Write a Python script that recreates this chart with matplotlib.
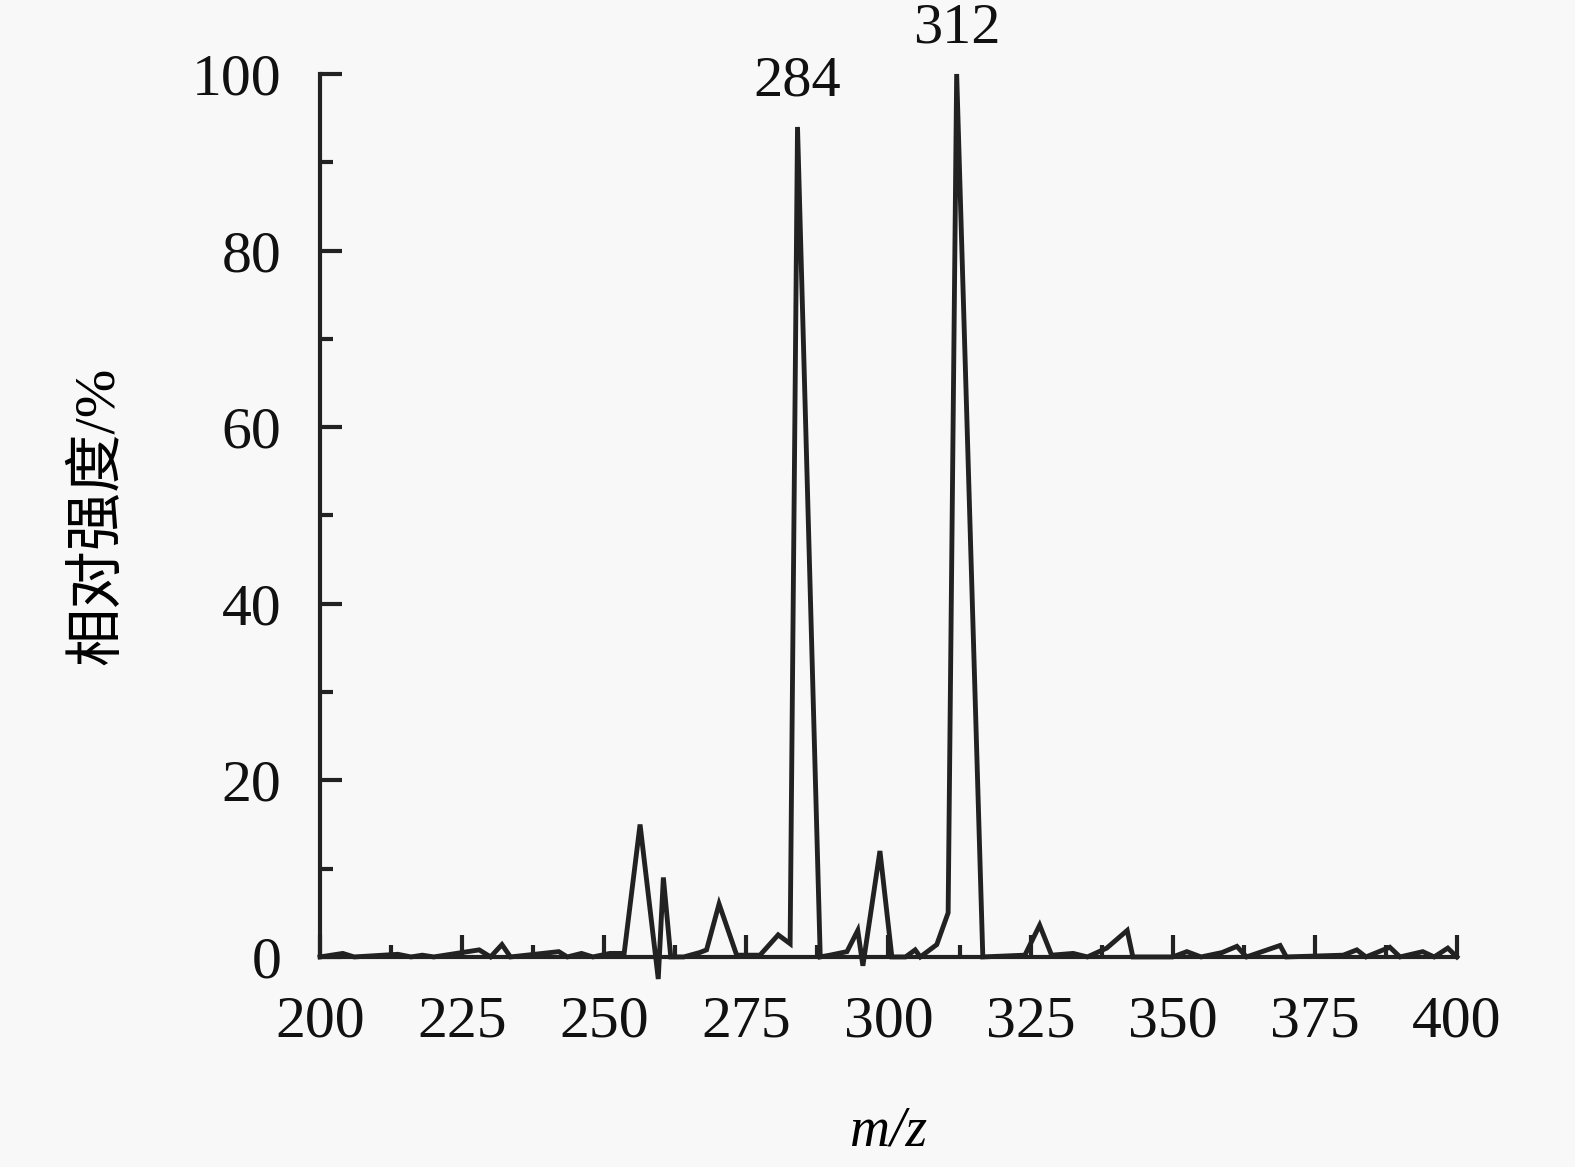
import matplotlib
matplotlib.use('Agg')
import matplotlib.pyplot as plt
from matplotlib.ticker import MultipleLocator

# spectrum points
mz = [200, 204, 206, 213.7, 216, 218, 220, 228, 230, 232, 233.5, 242, 243.5,
      246, 248, 251, 253.5, 256.3, 259.5, 260.4, 261.7, 264, 266.8, 268,
      270.2, 273.3, 277.4, 280.6, 282.7, 284, 288, 289.7, 292.7, 294.6,
      295.5, 298.5, 300.6, 303, 304.7, 305.6, 308.5, 310.5, 312, 316.6,
      324, 326.6, 328.7, 332.5, 335, 338.4, 342, 343, 350, 352.5, 355,
      358.7, 361.3, 363, 368.9, 370, 380, 382.4, 384, 388.2, 390, 394, 396,
      398.4, 400]
intensity = [0, 0.4, 0, 0.3, 0, 0.2, 0, 0.8, 0, 1.4, 0, 0.6, 0,
             0.4, 0, 0.4, 0.4, 15, -2.5, 9, 0, 0, 0.5, 0.8,
             6, 0.2, 0.2, 2.5, 1.5, 94, 0, 0.2, 0.6, 3,
             -1, 12, 0, 0, 0.8, 0, 1.4, 5, 100, 0,
             0.2, 3.6, 0.2, 0.4, 0, 1, 3, 0, 0, 0.6, 0,
             0.5, 1.2, 0, 1.3, 0, 0.2, 0.8, 0, 1.1, 0, 0.6, 0,
             1, 0]
peak_labels = [(284, 94, '284'), (312, 100, '312')]

serif = ['Liberation Serif', 'DejaVu Serif']
plt.rcParams['font.family'] = serif

fig = plt.figure(figsize=(15.75, 11.67), dpi=100, facecolor='#f8f8f8')
ax = fig.add_axes([0.2032, 0.18, 0.7218, 0.7566])
ax.set_facecolor('#f8f8f8')

ax.plot(mz, intensity, color='#222222', lw=3.5, clip_on=False,
        solid_joinstyle='miter')

for x, y, s in peak_labels:
    ax.annotate(s, xy=(x, y), xytext=(0, 14), textcoords='offset points',
                ha='center', va='bottom', fontsize=42, color='#111111',
                annotation_clip=False)

ax.set_xlim(200, 400)
ax.set_ylim(0, 100)
ax.xaxis.set_major_locator(MultipleLocator(25))
ax.xaxis.set_minor_locator(MultipleLocator(12.5))
ax.yaxis.set_major_locator(MultipleLocator(20))
ax.yaxis.set_minor_locator(MultipleLocator(10))

for side in ['top', 'right']:
    ax.spines[side].set_visible(False)
for side in ['left', 'bottom']:
    ax.spines[side].set_linewidth(3)
    ax.spines[side].set_color('#222222')

ax.tick_params(which='major', direction='in', length=16, width=3,
               color='#222222', labelsize=43, pad=28, labelcolor='#111111')
ax.tick_params(which='minor', direction='in', length=9, width=3,
               color='#222222')

ax.set_xlabel('m/z', fontsize=40, style='italic', labelpad=40)
ax.set_ylabel('相对强度/%', fontsize=42,
              family=['Liberation Serif', 'Noto Sans CJK SC'], labelpad=48)

fig.savefig('out.png', dpi=100, facecolor=fig.get_facecolor())
